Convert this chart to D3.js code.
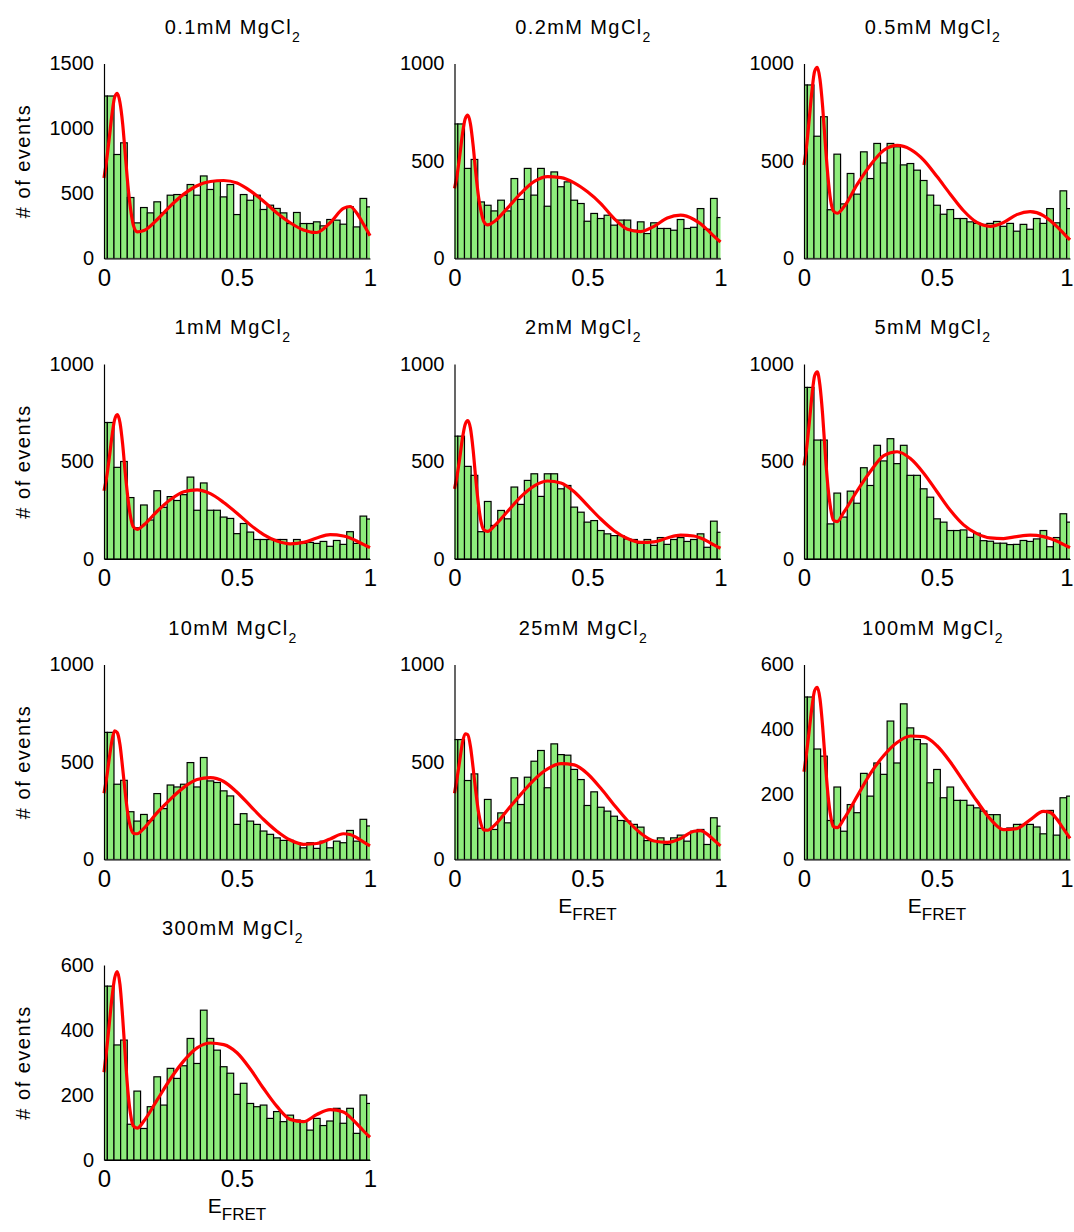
<!DOCTYPE html>
<html><head><meta charset="utf-8">
<script src="https://cdn.jsdelivr.net/npm/d3@7"></script>
<style>
body{margin:0;background:#fff}
svg{display:block}
text{font-family:"Liberation Sans",Arial,sans-serif;fill:#000}
</style></head>
<body><svg id="chart" width="1074" height="1232"></svg>
<script>
// ---------- data ----------
const binCenters = [0,0.025,0.05,0.075,0.1,0.125,0.15,0.175,0.2,0.225,0.25,0.275,0.3,0.325,0.35,0.375,0.4,0.425,0.45,0.475,0.5,0.525,0.55,0.575,0.6,0.625,0.65,0.675,0.7,0.725,0.75,0.775,0.8,0.825,0.85,0.875,0.9,0.925,0.95,0.975,1];
const binWidth = 0.025;
const fitX = [0,0.01,0.02,0.03,0.04,0.05,0.06,0.07,0.08,0.09,0.1,0.11,0.125,0.15,0.2,0.25,0.3,0.35,0.4,0.45,0.5,0.55,0.6,0.65,0.7,0.75,0.8,0.85,0.9,0.925,0.95,0.975,1];

const conditions = ["0.1mM","0.2mM","0.5mM","1mM","2mM","5mM","10mM","25mM","100mM","300mM"];
const yMaxes = [1500,1000,1000,1000,1000,1000,1000,1000,600,600];
const yTicks1500 = [0,500,1000,1500];
const yTicks1000 = [0,500,1000];
const yTicks600 = [0,200,400,600];
const xTicks = [0,0.5,1];
const xTickLabels = ["0","0.5","1"];

const counts_0_1mM = [1250,1250,800,890,469,274,392,351,436,351,487,492,487,569,487,635,531,595,474,569,338,492,448,487,377,410,385,351,269,354,269,269,282,251,300,295,264,397,243,462,397];
const counts_0_2mM = [690,690,462,508,290,273,244,299,244,410,303,462,325,462,268,444,368,393,299,282,191,231,205,222,171,197,197,145,188,128,183,154,154,145,200,154,160,256,150,308,210];
const counts_0_5mM = [890,890,627,727,250,535,280,436,330,547,410,590,490,590,573,480,487,453,400,325,273,227,251,205,205,188,180,175,180,190,165,180,140,175,150,205,180,256,183,347,256];
const counts_1mM   = [700,700,470,500,315,160,277,200,350,265,320,300,330,420,250,390,250,250,215,208,130,182,138,100,100,100,100,100,75,100,80,85,80,90,65,95,75,140,80,220,205];
const counts_2mM   = [630,630,475,429,140,295,172,249,206,369,280,403,437,321,437,437,360,377,266,240,189,197,146,129,120,120,103,100,80,100,70,110,75,100,110,90,100,129,60,194,137];
const counts_5mM   = [880,880,610,610,180,338,215,348,286,468,377,583,503,617,489,583,429,429,360,317,206,189,146,146,149,111,132,94,91,81,81,74,75,95,90,103,146,63,110,232,189];
const counts_10mM  = [652,652,386,406,245,197,231,200,338,261,382,372,386,497,372,523,403,395,352,326,180,235,197,180,146,129,111,98,98,86,60,86,57,94,60,94,86,149,94,206,172];
const counts_25mM  = [615,615,405,439,160,308,154,239,188,419,282,422,504,559,368,593,538,535,462,410,277,347,268,248,222,200,197,180,166,97,94,111,77,111,125,94,145,154,77,214,171];
const counts_100mM = [500,500,340,318,120,223,87,169,144,265,195,297,262,426,297,479,405,369,356,236,277,190,223,182,182,167,159,149,138,138,92,97,108,108,108,100,79,151,75,190,195];
const counts_300mM = [535,535,354,369,110,212,97,164,256,169,282,251,290,374,297,461,374,338,287,267,202,236,174,164,169,128,149,118,138,123,120,92,128,106,120,159,113,159,82,200,174];

const fit_0_1mM = [620,760,930,1110,1240,1270,1200,1040,800,560,380,260,205,215,300,405,495,560,592,600,580,520,440,350,275,220,200,275,385,400,350,265,175];
const fit_0_2mM = [360,430,530,640,715,735,690,580,440,320,240,190,172,190,260,335,395,420,415,388,342,282,205,150,138,165,208,222,200,178,148,115,85];
const fit_0_5mM = [480,580,720,860,960,980,920,780,590,420,300,245,232,265,380,480,555,580,560,505,420,330,245,185,165,185,225,240,220,195,165,130,95];
const fit_1mM   = [350,420,520,630,715,740,700,590,440,310,215,165,152,175,245,305,345,355,335,290,235,175,125,92,78,85,108,125,118,108,92,75,58];
const fit_2mM   = [360,430,520,620,690,710,670,560,410,280,190,150,142,170,245,320,375,400,390,345,275,205,145,105,85,88,108,122,118,108,92,72,55];
const fit_5mM   = [480,570,700,840,940,960,890,740,540,370,260,200,192,240,350,450,530,550,515,440,345,250,175,130,108,105,115,122,115,105,92,75,58];
const fit_10mM  = [340,420,520,610,660,650,590,470,340,230,165,135,132,160,240,310,370,410,420,400,345,275,205,145,100,78,82,105,132,128,112,90,70];
const fit_25mM  = [340,420,510,600,645,640,580,470,350,245,180,152,150,175,255,335,410,465,492,485,440,365,280,200,135,95,88,108,145,148,130,100,70];
const fit_100mM = [270,330,400,470,520,530,495,410,300,200,135,102,98,125,195,265,320,360,380,378,350,300,240,180,125,92,95,122,148,145,125,95,65];
const fit_300mM = [270,340,420,500,560,580,540,440,320,210,140,105,98,120,185,250,305,345,360,355,330,280,220,165,125,118,140,155,148,132,112,90,70];

// ---------- assemble ----------
const allCounts = [counts_0_1mM,counts_0_2mM,counts_0_5mM,counts_1mM,counts_2mM,counts_5mM,counts_10mM,counts_25mM,counts_100mM,counts_300mM];
const allFits = [fit_0_1mM,fit_0_2mM,fit_0_5mM,fit_1mM,fit_2mM,fit_5mM,fit_10mM,fit_25mM,fit_100mM,fit_300mM];
const tickSets = {1500: yTicks1500, 1000: yTicks1000, 600: yTicks600};

// ---------- layout ----------
const W = 266, H = 195;
const colLeft = [104, 454.5, 804];
const rowBottom = [258.5, 559, 859.5, 1160];
const barFill = "#8eec7c";
const FONT = '"Liberation Sans",Arial,sans-serif';
const svg = d3.select("#chart");

svg.append("defs").append("clipPath").attr("id","plotclip")
  .append("rect").attr("x",0).attr("y",-20).attr("width",W).attr("height",H+20);

const xScale = d3.scaleLinear().domain([0,1]).range([0,W]);

conditions.forEach((cond, i) => {
  const col = i % 3, row = Math.floor(i / 3);
  const g = svg.append("g").attr("transform", `translate(${colLeft[col]},${rowBottom[row]-H})`);
  const yMax = yMaxes[i];
  const y = d3.scaleLinear().domain([0,yMax]).range([H,0]);
  const counts = allCounts[i];

  // bars
  g.append("g").attr("clip-path","url(#plotclip)")
    .selectAll("rect").data(binCenters.map((c,k)=>({c, v:counts[k]})))
    .join("rect")
    .attr("x", d => xScale(d.c - binWidth/2))
    .attr("width", xScale(binWidth) - xScale(0))
    .attr("y", d => y(d.v))
    .attr("height", d => H - y(d.v))
    .attr("fill", barFill)
    .attr("stroke", "#000")
    .attr("stroke-width", 1.2);

  // fit line
  const line = d3.line().x(d => xScale(d[0])).y(d => y(d[1])).curve(d3.curveMonotoneX);
  g.append("path").datum(fitX.map((x,k)=>[x, allFits[i][k]]))
    .attr("d", line).attr("fill","none").attr("stroke","#ff0000")
    .attr("stroke-width", 3.2).attr("stroke-linejoin","round");

  // y axis
  const ya = g.append("g").call(d3.axisLeft(y).tickValues(tickSets[yMax]).tickFormat(d3.format("d")).tickSize(0).tickSizeOuter(0).tickPadding(10));
  ya.select(".domain").attr("stroke","#000").attr("stroke-width",1.2);
  ya.selectAll("text").attr("font-size", 20).attr("font-family",FONT).attr("fill","#111");

  // x axis
  const xa = g.append("g").attr("transform",`translate(0,${H})`)
    .call(d3.axisBottom(xScale).tickValues(xTicks).tickFormat((d,k)=>xTickLabels[k]).tickSize(0).tickSizeOuter(0).tickPadding(10));
  xa.select(".domain").attr("stroke","#000").attr("stroke-width",1.2);
  xa.selectAll("text").attr("font-size", 24).attr("font-family",FONT).attr("fill","#111");
  if (col === 2) {
    xa.selectAll("text").filter(d => d === 1).attr("text-anchor","end").attr("dx", 3);
  }

  // title
  const t = g.append("text").attr("x", W/2 - 4).attr("y", -30)
    .attr("text-anchor","middle").attr("font-size",20).attr("letter-spacing","1.4px").attr("fill","#111");
  t.append("tspan").text(cond + " MgCl");
  t.append("tspan").attr("font-size",14).attr("dy",8).text("2");

  // y label
  if (col === 0) {
    g.append("text").attr("transform",`translate(${30 - colLeft[0]},${H/2}) rotate(-90)`)
      .attr("text-anchor","middle").attr("font-size",20).attr("letter-spacing","1.5px").attr("fill","#111")
      .text("# of events");
  }
  // x label: bottom panel of each column
  if (i >= 7) {
    const xl = g.append("text").attr("x", W/2).attr("y", H + 53).attr("text-anchor","middle").attr("fill","#111");
    xl.append("tspan").attr("font-size",21).text("E");
    xl.append("tspan").attr("font-size",17).attr("dy",7).text("FRET");
  }
});
</script>
</body></html>
